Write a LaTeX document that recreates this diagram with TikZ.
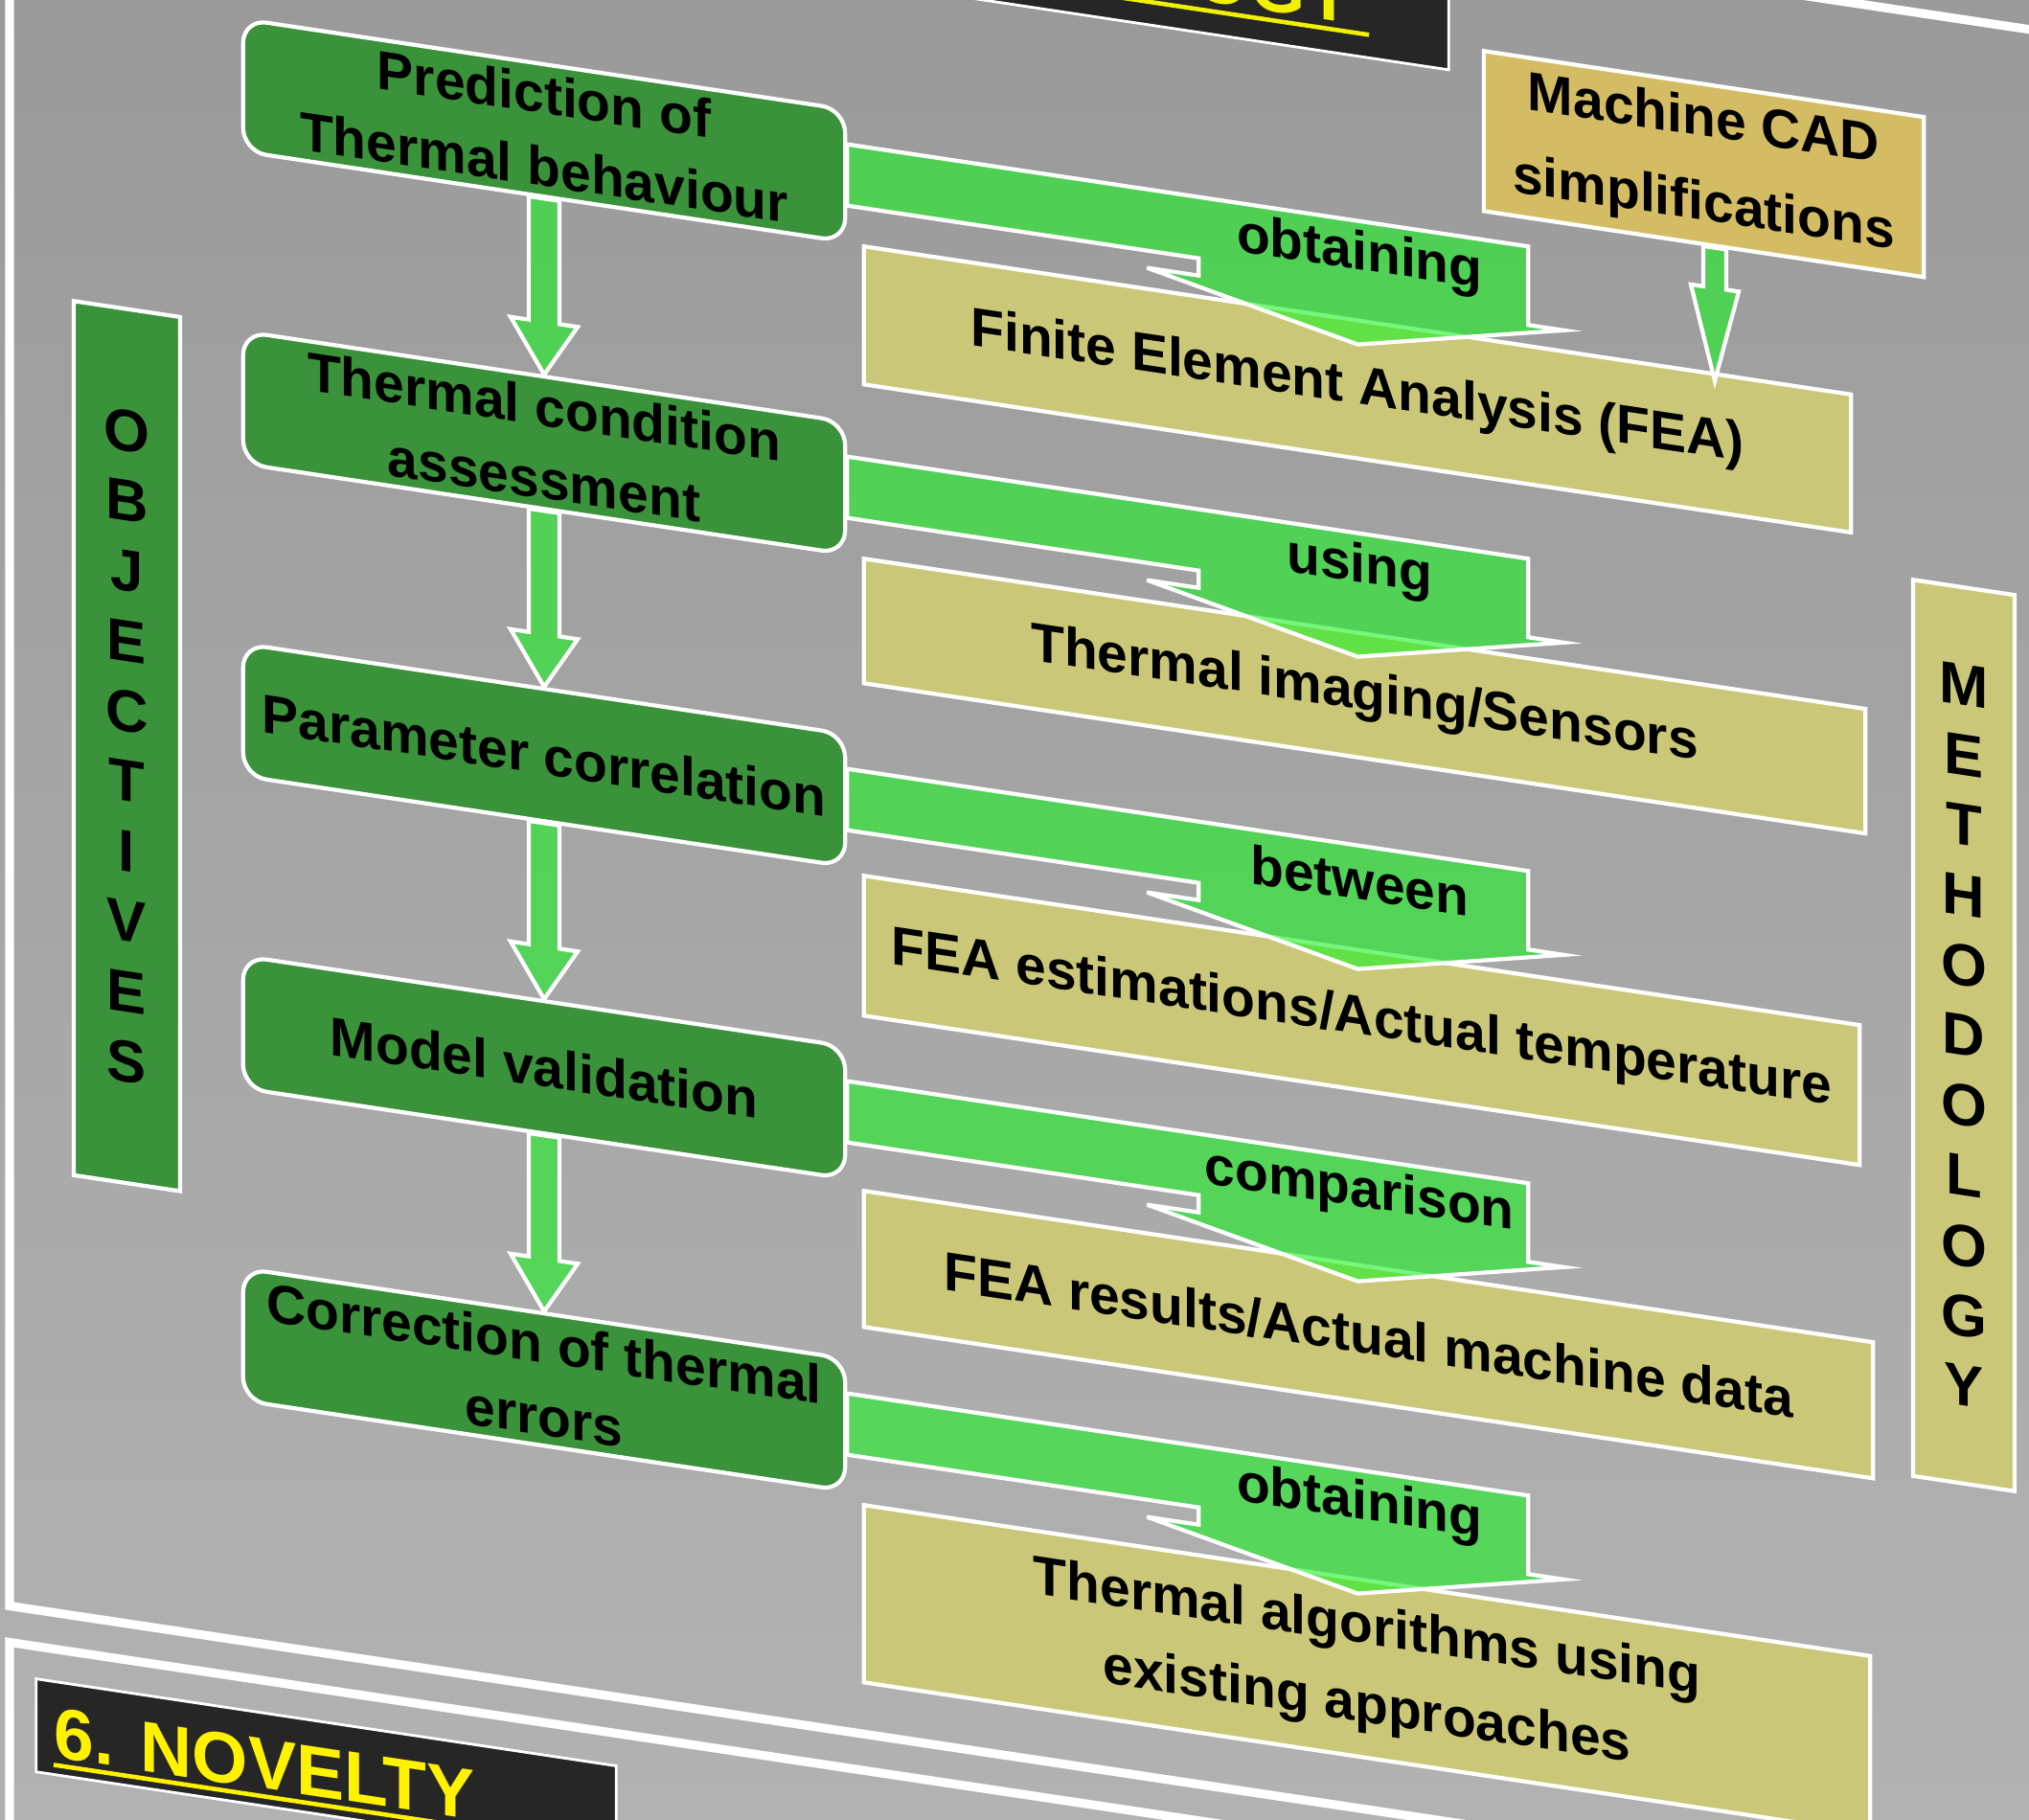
\documentclass[tikz,border=0pt]{standalone}
\usepackage{fontspec}
\setmainfont{Liberation Sans}
\usetikzlibrary{calc}

\definecolor{bgtop}{RGB}{150,150,150}
\definecolor{bgbot}{RGB}{182,182,182}
\definecolor{objgreen}{RGB}{58,146,58}
\definecolor{flowgreen}{RGB}{28,242,37}
\definecolor{methkhaki}{RGB}{202,200,120}
\definecolor{cadgold}{RGB}{212,188,100}
\definecolor{headblack}{RGB}{38,38,38}
\definecolor{headyellow}{RGB}{240,240,0}

\newcommand{\boxfont}[1][21.6]{\fontsize{16.2}{#1}\selectfont\bfseries}
\newcommand{\headfont}{\fontsize{21.3}{24}\selectfont\bfseries}
\newcommand{\barfont}{\fontsize{17.5}{20.8}\selectfont\bfseries}

\tikzset{
  objbox/.style={draw=white, line width=1.2pt, fill=objgreen, rounded corners=7pt,
    minimum width=6.28cm, minimum height=1.38cm, inner sep=0pt, align=center, font=\boxfont},
  methbox/.style={draw=white, line width=1.2pt, fill=methkhaki, inner sep=0pt,
    align=center, font=\boxfont},
  cadbox/.style={methbox, fill=cadgold},
  sidebar/.style={draw=white, line width=1.2pt, inner sep=0pt, align=center, font=\barfont},
  headbox/.style={draw=white, line width=0.8pt, fill=headblack, inner sep=0pt},
  headtext/.style={text=headyellow, font=\headfont, inner sep=0pt},
  headline/.style={headyellow, line width=1.3pt},
  flowarrow/.style={fill=flowgreen, fill opacity=0.6, draw=white, line width=1.2pt},
  flowlabel/.style={font=\boxfont, inner sep=0pt},
  panelline/.style={white, line width=2.6pt},
}

\begin{document}
\begin{tikzpicture}[x=0.01cm, y=-0.01cm, cm={1,-0.15,0,1,(0,0)}, transform shape]
  % frame of the photo, in the slanted plane
  \useasboundingbox (0,0) -- (2118,-317.7) -- (2118,1582.3) -- (0,1900) -- cycle;
  \clip (0,0) -- (2118,-317.7) -- (2118,1582.3) -- (0,1900) -- cycle;
  \shade[top color=bgtop, bottom color=bgbot] (0,-320) rectangle (2118,1900);

  % panel borders
  \draw[panelline] (10,-500) -- (10,1675) -- (2300,1675);
  \draw[panelline] (10,2300) -- (10,1713) -- (2300,1713);
  \draw[panelline] (-100,-287) -- (2300,-287);

  % section headers
  \node[headbox, minimum width=9.2cm, minimum height=1.5cm] (methbar) at (1052,-229) {};
  \node[headtext, anchor=base east] (methtitle) at (1413,-187) {METHODOLOGY};
  \draw[headline] ($(methtitle.base west)+(0,9)$) -- ($(methtitle.base east)+(16,9)$);
  \node[headbox, minimum width=6.05cm, minimum height=0.97cm] (novbar) at (340.5,1795.5) {};
  \node[headtext, text=yellow, anchor=base west] (novtitle) at (56,1826) {6. NOVELTY};
  \draw[headline, yellow] ($(novtitle.base west)+(0,8)$) -- ($(novtitle.base east)+(0,8)$);

  % side bars
  \node[sidebar, fill=objgreen, minimum width=1.11cm, minimum height=9.12cm] (objbar)
    at (132.5,759) {O\\B\\J\\E\\C\\T\\I\\V\\E\\S};
  \node[sidebar, fill=methkhaki, minimum width=1.06cm, minimum height=9.35cm] (methside)
    at (2050,773.5) {M\\E\\T\\H\\O\\D\\O\\L\\O\\G\\Y};

  % methodology boxes
  \node[methbox, minimum width=10.30cm, minimum height=1.44cm] (met1) at (1417,194)
    {Finite Element Analysis (FEA)};
  \node[methbox, minimum width=10.45cm, minimum height=1.30cm] (met2) at (1424.5,513)
    {Thermal imaging/Sensors};
  \node[methbox, minimum width=10.39cm, minimum height=1.46cm] (met3) at (1421.5,852)
    {FEA estimations/Actual temperature};
  \node[methbox, minimum width=10.53cm, minimum height=1.42cm] (met4) at (1428.5,1179)
    {FEA results/Actual machine data};
  \node[methbox, minimum width=10.50cm, minimum height=1.85cm, font={\boxfont[23.3]}] (met5)
    at (1427,1528.5) {Thermal algorithms using\\existing approaches};
  \node[cadbox, minimum width=4.59cm, minimum height=1.67cm, font={\boxfont[25]}] (cad)
    at (1778.5,-95.5) {Machine CAD\\simplifications};

  % objectives
  \node[objbox] (obj1) at (568,51) {Prediction of\\Thermal behaviour};
  \node[objbox] (obj2) at (568,377) {Thermal condition\\assessment};
  \node[objbox] (obj3) at (568,703) {Parameter correlation};
  \node[objbox] (obj4) at (568,1029) {Model validation};
  \node[objbox] (obj5) at (568,1355) {Correction of thermal\\errors};

  % objective to objective
  \foreach \i/\j in {1/2,2/3,3/4,4/5}
    \draw[flowarrow] ($(obj\i.south)+(-16,0)$) -- ($(obj\j.north)+(-16,-55)$) -- ++(-19,0)
      -- (obj\j.north) -- ($(obj\j.north)+(35,-55)$) -- ++(-19,0)
      -- ($(obj\i.south)+(16,0)$) -- cycle;

  % objective to methodology, bent
  \foreach \i/\lab in {1/obtaining,2/using,3/between,4/comparison,5/obtaining} {
    \draw[flowarrow] ($(obj\i.east)+(0,-33)$) -- ++(711,0) -- ++(0,82) -- ++(37,0)
      -- ++(-215,47) -- ++(-220,-47) -- ++(54,0) -- ++(0,-18) -- ++(-367,0) -- cycle;
    \node[flowlabel] at ($(obj\i.east)+(535,3)$) {\lab};
  }

  % CAD into FEA
  \draw[flowarrow] ($(cad.south)+(-0.5,0)$) -- ++(0,42) -- ++(-13,0) -- ++(25,97)
    -- ++(25,-97) -- ++(-13,0) -- ++(0,-42) -- cycle;
\end{tikzpicture}
\end{document}
